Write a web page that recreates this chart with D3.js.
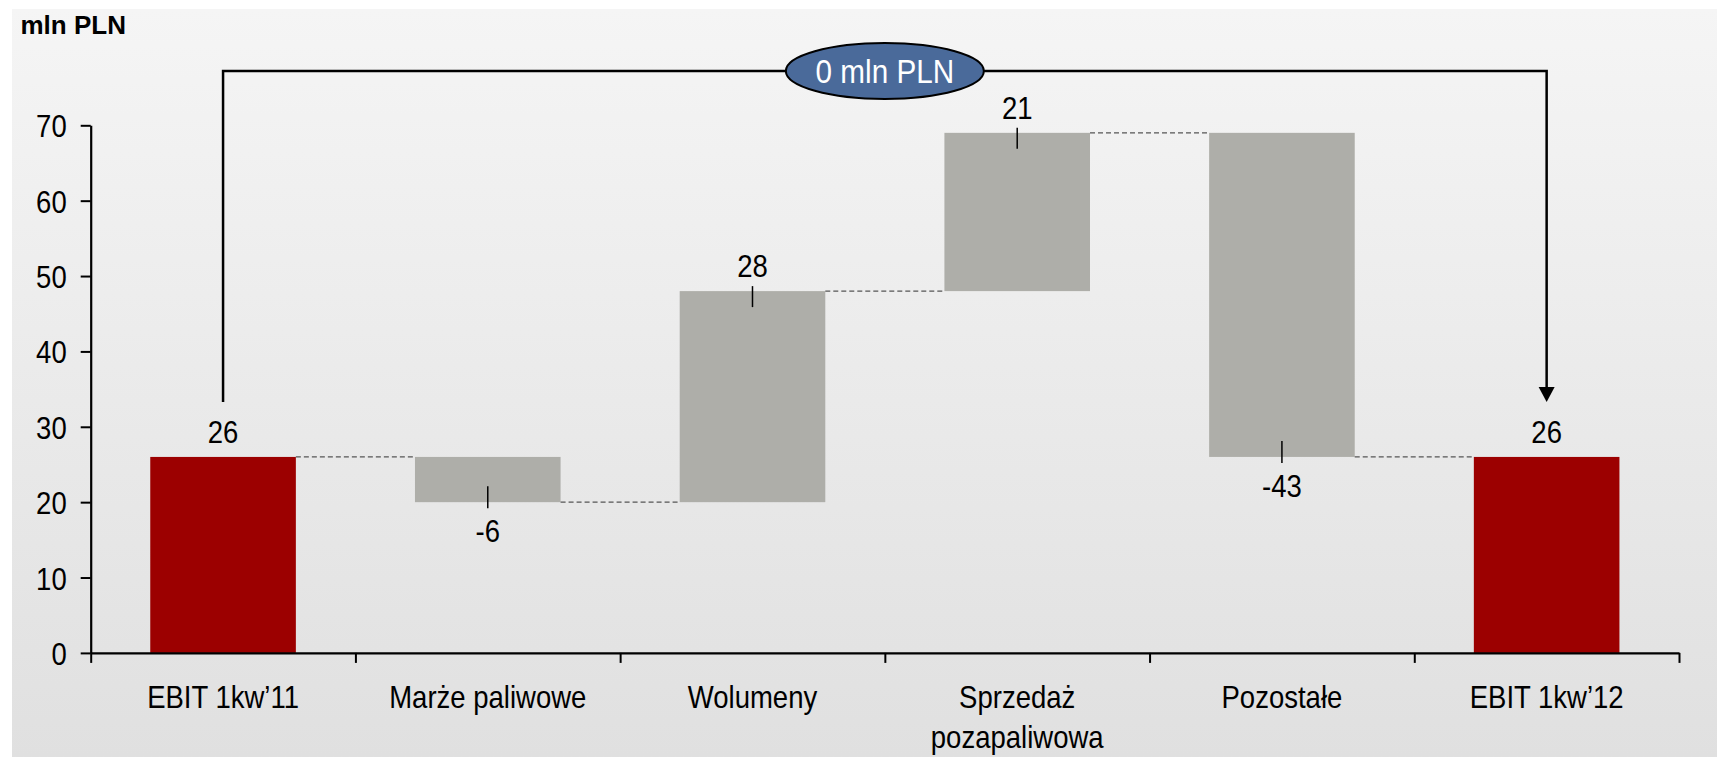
<!DOCTYPE html>
<html>
<head>
<meta charset="utf-8">
<script src="https://cdn.jsdelivr.net/npm/d3@7"></script>
<style>
  html, body { margin: 0; padding: 0; background: #ffffff; }
  svg { display: block; }
  text { font-family: "Liberation Sans", Arial, sans-serif; fill: #000; }
</style>
</head>
<body>
<svg id="chart" width="1717" height="757"></svg>
<script>
// ---- data ----
const categories = ["EBIT 1kw’11", "Marże paliwowe", "Wolumeny", "Sprzedaż\npozapaliwowa", "Pozostałe", "EBIT 1kw’12"];
const values = [26, -6, 28, 21, -43, 26];
const barTypes = ["total", "delta", "delta", "delta", "delta", "total"];
const yTicks = [0, 10, 20, 30, 40, 50, 60, 70];
const unitLabel = "mln PLN";
const changeLabel = "0 mln PLN";

// ---- layout ----
const W = 1717, H = 757;
const x0 = 90.7, x1 = 1679, yBase = 652.9, yTop = 125.3;
const SX = 0.86; // horizontal text compression
const FS = "32px";
const svg = d3.select("#chart");

// background gradient
const defs = svg.append("defs");
const grad = defs.append("linearGradient").attr("id", "bg").attr("x1", 0).attr("y1", 0).attr("x2", 0).attr("y2", 1);
grad.append("stop").attr("offset", "0%").attr("stop-color", "#f5f5f5");
grad.append("stop").attr("offset", "100%").attr("stop-color", "#e0e0e0");
svg.append("rect").attr("x", 12).attr("y", 9).attr("width", W - 12).attr("height", H - 9).attr("fill", "url(#bg)");

const x = d3.scaleBand().domain(d3.range(categories.length)).range([x0, x1]).paddingInner(0.45).paddingOuter(0.225);
const y = d3.scaleLinear().domain([0, 70]).range([yBase, yTop]);

// compute waterfall
let cum = 0;
const bars = values.map((v, i) => {
  let lo, hi;
  if (barTypes[i] === "total") { lo = 0; hi = v; cum = v; }
  else { const s = cum; cum = s + v; lo = Math.min(s, cum); hi = Math.max(s, cum); }
  return { i, v, lo, hi, end: cum, type: barTypes[i] };
});

// bars
svg.append("g").selectAll("rect").data(bars).join("rect")
  .attr("x", d => x(d.i))
  .attr("width", x.bandwidth())
  .attr("y", d => y(d.hi))
  .attr("height", d => y(d.lo) - y(d.hi))
  .attr("fill", d => d.type === "total" ? "#9c0000" : "#aeaea9");

// dashed connectors
svg.append("g").selectAll("line").data(bars.slice(0, -1)).join("line")
  .attr("x1", d => x(d.i) + x.bandwidth())
  .attr("x2", d => x(d.i + 1))
  .attr("y1", d => y(d.end))
  .attr("y2", d => y(d.end))
  .attr("stroke", "#555")
  .attr("stroke-width", 1.3)
  .attr("stroke-dasharray", "5,3");

// y axis
const yAxis = svg.append("g").attr("transform", `translate(${x0},0)`)
  .call(d3.axisLeft(y).tickValues(yTicks).tickSize(10).tickSizeOuter(0).tickFormat(d3.format("d")));
yAxis.select(".domain").attr("stroke", "#000").attr("stroke-width", 2.2);
yAxis.selectAll(".tick line").attr("stroke", "#000").attr("stroke-width", 2);
yAxis.selectAll(".tick text")
  .attr("x", null).attr("dy", null)
  .attr("transform", "translate(-24,11.5) scale(" + SX + ",1)")
  .attr("text-anchor", "end")
  .style("font-size", FS)
  .style("font-family", "'Liberation Sans', Arial, sans-serif")
  .attr("fill", "#000");

// x axis (band boundaries)
const xb = d3.scaleLinear().domain([0, categories.length]).range([x0, x1]);
const xAxis = svg.append("g").attr("transform", `translate(0,${yBase})`)
  .call(d3.axisBottom(xb).tickValues(d3.range(categories.length + 1)).tickSize(10).tickSizeOuter(0).tickFormat(""));
xAxis.select(".domain").attr("stroke", "#000").attr("stroke-width", 2.2);
xAxis.selectAll(".tick line").attr("stroke", "#000").attr("stroke-width", 2);

// category labels
const catG = svg.append("g");
categories.forEach((c, i) => {
  const cx = x(i) + x.bandwidth() / 2;
  c.split("\n").forEach((line, k) => {
    catG.append("text")
      .attr("transform", `translate(${cx},${708 + k * 39.5}) scale(${SX},1)`)
      .attr("text-anchor", "middle")
      .style("font-size", FS)
      .text(line);
  });
});

// data labels
const lblG = svg.append("g");
bars.forEach(d => {
  const cx = x(d.i) + x.bandwidth() / 2;
  const label = d.v > 0 ? String(d.v) : "-" + Math.abs(d.v);
  if (d.v >= 0) {
    const t = y(d.hi);
    lblG.append("text")
      .attr("transform", `translate(${cx},${t - 14}) scale(${SX},1)`)
      .attr("text-anchor", "middle").style("font-size", FS).text(label);
    if (d.type === "delta") {
      lblG.append("line").attr("x1", cx).attr("x2", cx).attr("y1", t - 5).attr("y2", t + 16)
        .attr("stroke", "#000").attr("stroke-width", 1.5);
    }
  } else {
    const b = y(d.lo);
    lblG.append("text")
      .attr("transform", `translate(${cx},${b + 40}) scale(${SX},1)`)
      .attr("text-anchor", "middle").style("font-size", FS).text(label);
    lblG.append("line").attr("x1", cx).attr("x2", cx).attr("y1", b - 16).attr("y2", b + 6)
      .attr("stroke", "#000").attr("stroke-width", 1.5);
  }
});

// bracket with arrow
const first = bars[0], last = bars[bars.length - 1];
const bxL = x(first.i) + x.bandwidth() / 2;
const bxR = x(last.i) + x.bandwidth() / 2;
const bY = 71;
const startY = y(first.hi) - 55;
const tipY = y(last.hi) - 55;
svg.append("path")
  .attr("d", `M${bxL},${startY} V${bY} H${bxR} V${tipY - 14}`)
  .attr("fill", "none").attr("stroke", "#000").attr("stroke-width", 2.5);
svg.append("path")
  .attr("d", `M${bxR - 8},${tipY - 15} L${bxR + 8},${tipY - 15} L${bxR},${tipY} Z`)
  .attr("fill", "#000");

// ellipse label
const ex = (bxL + bxR) / 2;
svg.append("ellipse").attr("cx", ex).attr("cy", bY).attr("rx", 99).attr("ry", 28)
  .attr("fill", "#4a6a9a").attr("stroke", "#000").attr("stroke-width", 2);
svg.append("text")
  .attr("transform", `translate(${ex},${bY + 12}) scale(0.9,1)`)
  .attr("text-anchor", "middle")
  .style("font-size", "33px")
  .style("fill", "#ffffff")
  .text(changeLabel);

// unit label
svg.append("text")
  .attr("x", 20.5).attr("y", 34)
  .style("font-size", "26px").style("font-weight", "bold")
  .text(unitLabel);
</script>
</body>
</html>
